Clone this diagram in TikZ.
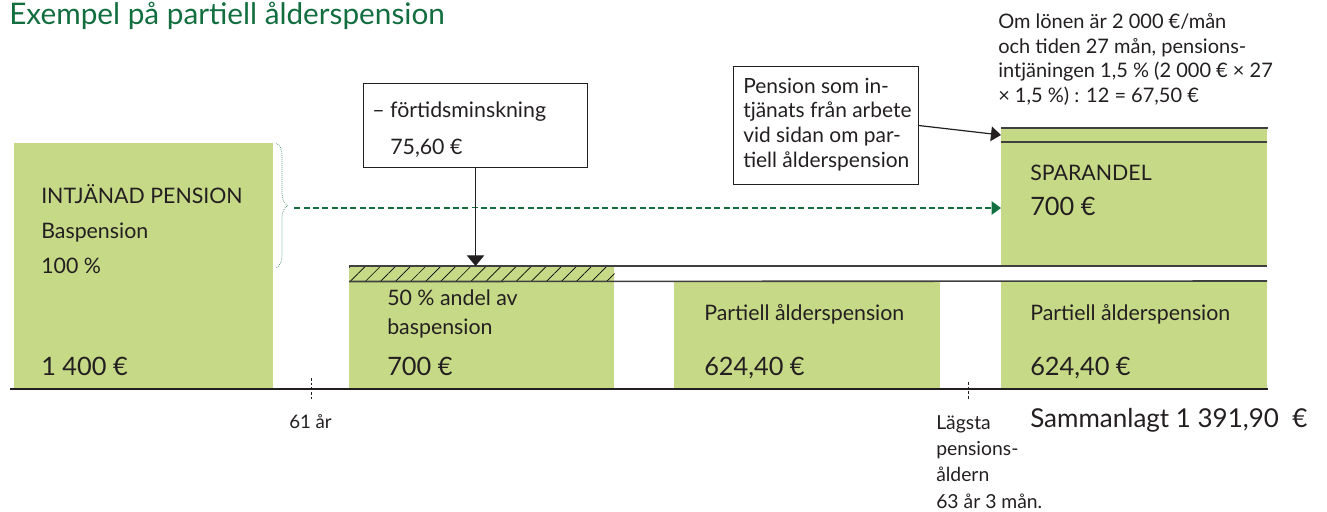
\documentclass[tikz,border=0pt]{standalone}
\usepackage{fontspec}
\setmainfont{Lato}
\usetikzlibrary{arrows.meta,patterns.meta,decorations.pathreplacing}

\definecolor{pgreen}{RGB}{198,217,135}
\definecolor{dgreen}{RGB}{18,110,62}
\definecolor{ink}{RGB}{35,31,32}

\begin{document}
\begin{tikzpicture}[x=0.75pt,y=0.75pt,yscale=-1,xscale=1,
  pbox/.style={fill=pgreen, inner sep=0pt, anchor=north west},
  callout/.style={draw=ink, line width=0.8pt, inner sep=0pt, anchor=north west},
  lbl/.style={anchor=base west, inner sep=0pt, text=ink, align=left, font=\fontsize{16}{20}\selectfont},
  amount/.style={anchor=base west, inner sep=0pt, text=ink, font=\fontsize{19}{22}\selectfont},
  note/.style={anchor=base west, inner sep=0pt, text=ink, align=left},
  band/.style={draw=black!75, line width=1.2pt},
  tickmark/.style={draw=ink, line width=0.6pt, dash pattern=on 2pt off 1.5pt}]
\useasboundingbox (0,0) rectangle (1327,511);

% Title
\node[anchor=base west, inner sep=0pt, text=dgreen, font=\fontsize{22.3}{26}\selectfont] (title) at (9,24) {Exempel på partiell ålderspension};

% green blocks
\node[pbox, minimum width=194.25pt, minimum height=183.75pt] (intj) at (14,143) {};
\node[pbox, minimum width=198.75pt, minimum height=81pt] (half) at (349,281) {};
\node[pbox, minimum width=198.75pt, minimum height=11.25pt] (strip) at (349,266) {};
\node[pbox, minimum width=199.5pt, minimum height=81pt] (part) at (674,281) {};
\node[pbox, minimum width=199.5pt, minimum height=81pt] (partb) at (1001,281) {};
\node[pbox, minimum width=199.5pt, minimum height=103.5pt] (spar) at (1001,128) {};

% hatched reduction
\fill[pattern={Lines[angle=45,distance=8pt,line width=0.5pt]}] (strip.north west) rectangle (strip.south east);

% band lines
\draw[band] (strip.north west) -- (1267,266);
\draw[band] (strip.south west) -- (1267,281);
\draw[band] (spar.north west) -- (spar.north east);
\draw[band] (1001,142) -- (1267,142);

% axis and ticks
\draw[ink, line width=2.2pt] (10,389) -- (1268,389);
\draw[tickmark] (311,378) -- (311,399);
\draw[tickmark] (968,382) -- (968,399);

% Text in blocks
\node[lbl, font=\fontsize{16}{25.9}\selectfont] (intjtxt) at (41,273) {INTJÄNAD PENSION\\Baspension\\100 \%};
\node[amount] (intjsum) at (41,375) {1 400 €};
\node[lbl, font=\fontsize{16}{21.75}\selectfont] (halftxt) at (387,334) {50 \% andel av\\baspension};
\node[amount] (halfsum) at (387,375) {700 €};
\node[lbl] (parttxt) at (704,320) {Partiell ålderspension};
\node[amount] (partsum) at (704,375) {624,40 €};
\node[lbl] (partbtxt) at (1030,320) {Partiell ålderspension};
\node[amount] (partbsum) at (1030,375) {624,40 €};
\node[lbl] (spartxt) at (1030,180) {SPARANDEL};
\node[amount] (sparsum) at (1030,215) {700 €};

% Notes
\node[note, font=\fontsize{15}{18.4}\selectfont] (calc) at (998,102.5) {Om lönen är 2 000 €/mån\\och tiden 27 mån, pensions-\\intjäningen 1,5 \% (2 000 € × 27\\× 1,5 \%) : 12 = 67,50 €};
\node[note, font=\fontsize{14}{16}\selectfont] (age61) at (289,428) {61 år};
\node[note, font=\fontsize{14.5}{19.7}\selectfont] (agemin) at (936,508) {Lägsta\\pensions-\\åldern\\63 år 3 mån.};
\node[amount, font=\fontsize{19.5}{22}\selectfont] (total) at (1030,427) {Sammanlagt 1 391,90 \ €};

% Callout boxes
\node[callout, minimum width=168pt, minimum height=63pt] (ftmbox) at (363,83) {};
\node[lbl, font=\fontsize{16}{27.75}\selectfont] (ftmtxt) at (372,154) {– förtidsminskning\\\hspace*{13.5pt}75,60 €};
\node[callout, minimum width=138.75pt, minimum height=88.5pt] (penbox) at (733,66) {};
\node[lbl, font=\fontsize{15.7}{18.5}\selectfont] (pentxt) at (743,167) {Pension som in-\\tjänats från arbete\\vid sidan om par-\\tiell ålderspension};

% brace and arrows
\draw[dgreen, densely dotted, line width=0.5pt, decorate, decoration={brace, amplitude=9pt}] (276,143) -- (276,268);
\coordinate (brtip) at (289,208);
\coordinate (spartop) at (1001,135);
\draw[dgreen, line width=0.8pt, dash pattern=on 4.5pt off 2.5pt, -{Triangle[length=7pt,width=10pt]}, shorten <=4pt] (brtip) -- (spar.west |- brtip);
\draw[ink, line width=0.9pt, -{Triangle[length=8pt,width=13pt]}, preaction={draw=white, line width=8pt, -, shorten <=30pt, shorten >=30pt}] (ftmbox.south) -- (ftmbox.south |- strip.north);
\draw[ink, line width=0.9pt, -{Triangle[length=7.5pt,width=11pt]}] (penbox.east) -- (spartop);

\end{tikzpicture}
\end{document}
